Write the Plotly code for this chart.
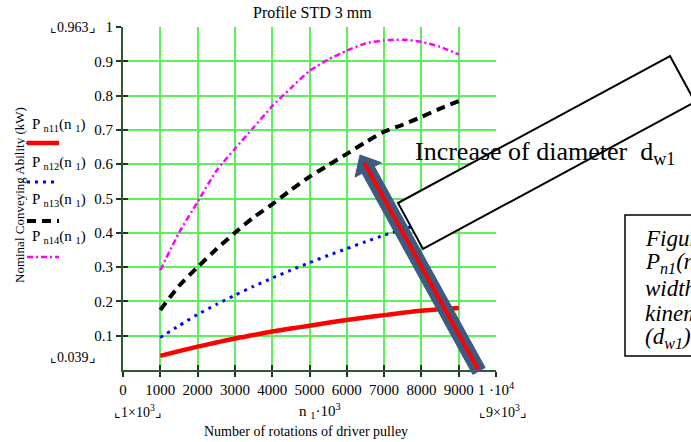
import plotly.graph_objects as go

# ---------------- data ----------------
rpm = [1000, 1500, 2000, 2500, 3000, 3500, 4000, 4500, 5000,
       5500, 6000, 6500, 7000, 7500, 8000, 8500, 9000]
p_n11 = [0.041, 0.055, 0.068, 0.080, 0.092, 0.102, 0.112, 0.121, 0.129,
         0.138, 0.146, 0.153, 0.160, 0.167, 0.173, 0.177, 0.181]
p_n12 = [0.095, 0.129, 0.162, 0.191, 0.218, 0.244, 0.268, 0.291, 0.313,
         0.334, 0.354, 0.374, 0.393, 0.410, 0.426, 0.441, 0.455]
p_n13 = [0.175, 0.245, 0.300, 0.352, 0.400, 0.445, 0.483, 0.525, 0.563,
         0.597, 0.630, 0.664, 0.695, 0.715, 0.738, 0.762, 0.784]
p_n14 = [0.291, 0.400, 0.490, 0.580, 0.645, 0.707, 0.769, 0.822, 0.872,
         0.905, 0.931, 0.952, 0.961, 0.963, 0.957, 0.942, 0.920]

series_names = ["P <sub>n11</sub>(n <sub>1</sub>)", "P <sub>n12</sub>(n <sub>1</sub>)",
                "P <sub>n13</sub>(n <sub>1</sub>)", "P <sub>n14</sub>(n <sub>1</sub>)"]
series_colors = ["#ff0000", "#0000ff", "#000000", "#ff00ff"]
series_widths = [4.5, 3, 4, 2.5]
series_dash = ["solid", "3px,5px", "9px,6px", "6px,3px,2px,3px"]

x_tick_vals = [0, 1000, 2000, 3000, 4000, 5000, 6000, 7000, 8000, 9000, 10000]
x_tick_text = ["0", "1000", "2000", "3000", "4000", "5000", "6000", "7000",
               "8000", "9000", "1 ·10<sup>4</sup>"]
y_tick_vals = [0.1, 0.2, 0.3, 0.4, 0.5, 0.6, 0.7, 0.8, 0.9, 1.0]
y_tick_text = ["0.1", "0.2", "0.3", "0.4", "0.5", "0.6", "0.7", "0.8", "0.9", "1"]

# ---------------- layout geometry (pixels) ----------------
W, H = 691, 442
L, R, T, B = 123, 496, 27, 370


def px(X):
    return (X - L) / (R - L)


def py(Y):
    return (B - Y) / (B - T)


SERIF = "Liberation Serif, Times New Roman, serif"

fig = go.Figure()
for name, ys, col, wd, dsh in zip(series_names, [p_n11, p_n12, p_n13, p_n14],
                                  series_colors, series_widths, series_dash):
    fig.add_trace(go.Scatter(x=rpm, y=ys, mode="lines", name=name,
                             line=dict(color=col, width=wd, dash=dsh, shape="spline", smoothing=0.6),
                             showlegend=False))

# invisible trace for overlay axes (inside ticks)
fig.add_trace(go.Scatter(x=[None], y=[None], xaxis="x2", yaxis="y2",
                         showlegend=False, hoverinfo="skip"))

axis_line = "#2e5a2e"
tick_col = "#1e3a1e"
grid_col = "#5cf05c"

shapes = []
annotations = []


def ann(text, X, Y, size=15, xanchor="center", yanchor="middle", angle=0, italic=False):
    if italic:
        text = "<i>" + text + "</i>"
    annotations.append(dict(text=text, x=px(X), y=py(Y), xref="paper", yref="paper",
                            showarrow=False, xanchor=xanchor, yanchor=yanchor,
                            textangle=angle,
                            font=dict(family=SERIF, size=size, color="black")))


# titles / labels
ann("Profile STD 3 mm", 312, 12, size=16)
ann("Nominal Conveying Ability (kW)", 19, 195, size=13, angle=-90)
ann("Number of rotations of driver pulley", 306, 432, size=14)
ann("n <sub>1</sub>·10<sup>3</sup>", 320, 411, size=15)
ann("⌞1×10<sup>3</sup>⌟", 138, 411, size=14)
ann("⌞9×10<sup>3</sup>⌟", 503, 411, size=14)
ann("⌞0.963⌟", 73, 27, size=14)
ann("⌞0.039⌟", 73, 357, size=14)

# legend (text above line sample)
leg_text_y = [125, 163, 200, 237]
leg_line_y = [143, 182, 221, 257]
for name, col, wd, dsh, ty, ly in zip(series_names, series_colors, series_widths,
                                      series_dash, leg_text_y, leg_line_y):
    ann(name, 30, ty, size=15, xanchor="left")
    shapes.append(dict(type="line", xref="paper", yref="paper",
                       x0=px(27), x1=px(59), y0=py(ly), y1=py(ly),
                       line=dict(color=col, width=wd, dash=dsh), layer="above"))

# rotated text box (white filled)
box = [(398, 203), (670, 56), (695, 102), (423, 249)]
path = "M " + " L ".join(f"{px(a):.5f},{py(b):.5f}" for a, b in box) + " Z"
shapes.append(dict(type="path", path=path, xref="paper", yref="paper",
                   fillcolor="white", line=dict(color="black", width=2), layer="above"))

# big arrow
tip = (360.0, 155.0)
tail = (479.0, 371.0)
dx, dy = tail[0] - tip[0], tail[1] - tip[1]
ln = (dx * dx + dy * dy) ** 0.5
ux, uy = dx / ln, dy / ln
nx, ny = -uy, ux
hl, hw, sw = 17.0, 15.0, 7.0
neck = (tip[0] + hl * ux, tip[1] + hl * uy)
pts = [tip,
       (neck[0] + hw * nx, neck[1] + hw * ny),
       (neck[0] + sw * nx, neck[1] + sw * ny),
       (tail[0] + sw * nx, tail[1] + sw * ny),
       (tail[0] - sw * nx, tail[1] - sw * ny),
       (neck[0] - sw * nx, neck[1] - sw * ny),
       (neck[0] - hw * nx, neck[1] - hw * ny)]
apath = "M " + " L ".join(f"{px(a):.5f},{py(b):.5f}" for a, b in pts) + " Z"
shapes.append(dict(type="path", path=apath, xref="paper", yref="paper",
                   fillcolor="#3d5a80", line=dict(color="#3d5a80", width=1), layer="above"))
rs = (tip[0] + 9 * ux, tip[1] + 9 * uy)
re_ = (tail[0] - 2 * ux, tail[1] - 2 * uy)
shapes.append(dict(type="line", xref="paper", yref="paper",
                   x0=px(rs[0]), y0=py(rs[1]), x1=px(re_[0]), y1=py(re_[1]),
                   line=dict(color="#ff0000", width=4), layer="above"))

# right caption box
shapes.append(dict(type="rect", xref="paper", yref="paper",
                   x0=px(625), x1=px(720), y0=py(215), y1=py(356),
                   fillcolor="white", line=dict(color="black", width=1.5), layer="above"))

ann("Increase of diameter\u00a0\u00a0d<sub>w1</sub>", 413, 153, size=26, xanchor="left")

cap_lines = ["Figure", "P<sub>n1</sub>(n<sub>1</sub>)", "width", "kinematic", "(d<sub>w1</sub>)"]
cap_y = [238, 263, 288, 313, 338]
for t, yy in zip(cap_lines, cap_y):
    ann(t, 643, yy, size=23, xanchor="left", italic=True)

fig.update_layout(
    width=W, height=H,
    margin=dict(l=L, r=W - R, t=T, b=H - B, pad=0),
    paper_bgcolor="white", plot_bgcolor="white",
    showlegend=False,
    xaxis=dict(range=[0, 10000], tickmode="array", tickvals=x_tick_vals, ticktext=x_tick_text,
               ticks="outside", ticklen=5, tickwidth=2, tickcolor=tick_col,
               showline=True, linecolor=axis_line, linewidth=2,
               showgrid=True, gridcolor=grid_col, gridwidth=1.5, zeroline=False,
               tickfont=dict(family=SERIF, size=15, color="black")),
    yaxis=dict(range=[0, 1], tickmode="array", tickvals=y_tick_vals, ticktext=y_tick_text,
               ticks="outside", ticklen=5, tickwidth=2, tickcolor=tick_col,
               showline=True, linecolor=axis_line, linewidth=2,
               showgrid=True, gridcolor=grid_col, gridwidth=1.5, zeroline=False,
               tickfont=dict(family=SERIF, size=15, color="black")),
    xaxis2=dict(range=[0, 10000], overlaying="x", anchor="y2", side="bottom",
                tickmode="array", tickvals=x_tick_vals, ticks="inside", ticklen=5,
                tickwidth=2, tickcolor=tick_col, showticklabels=False,
                showgrid=False, zeroline=False, showline=False),
    yaxis2=dict(range=[0, 1], overlaying="y", anchor="x2", side="left",
                tickmode="array", tickvals=y_tick_vals, ticks="inside", ticklen=5,
                tickwidth=2, tickcolor=tick_col, showticklabels=False,
                showgrid=False, zeroline=False, showline=False),
    shapes=shapes,
    annotations=annotations,
)

fig.write_html("out.html", config={"displayModeBar": False},
               post_script="document.body.style.margin='0';document.body.style.overflow='hidden';")
